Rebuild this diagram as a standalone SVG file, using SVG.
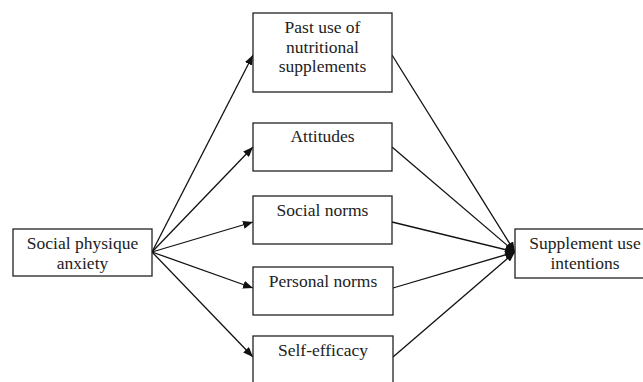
<svg xmlns="http://www.w3.org/2000/svg" width="643" height="382" viewBox="0 0 643 382">
<defs>
<style>
.box{fill:#fff;stroke:#222;stroke-width:1.3}
.t{font-family:"Liberation Serif","Times New Roman",serif;font-size:17.5px;fill:#222;text-anchor:middle}
.c{stroke:#111;stroke-width:1.3;fill:none}
</style>
<marker id="ah" viewBox="0 0 10 8" refX="10" refY="4" markerWidth="10" markerHeight="8" markerUnits="userSpaceOnUse" orient="auto">
<path d="M0,0 L10,4 L0,8 Z" fill="#111"/>
</marker>
</defs>
<rect width="643" height="382" fill="#fff"/>
<g id="connectors">
<line class="c" x1="152" y1="252" x2="253" y2="55" marker-end="url(#ah)"/>
<line class="c" x1="152" y1="252" x2="253" y2="147" marker-end="url(#ah)"/>
<line class="c" x1="152" y1="252" x2="253" y2="222" marker-end="url(#ah)"/>
<line class="c" x1="152" y1="252" x2="253" y2="288" marker-end="url(#ah)"/>
<line class="c" x1="152" y1="252" x2="253" y2="357" marker-end="url(#ah)"/>
<line class="c" x1="392" y1="55" x2="515" y2="252" marker-end="url(#ah)"/>
<line class="c" x1="392" y1="147" x2="515" y2="252" marker-end="url(#ah)"/>
<line class="c" x1="392" y1="222" x2="515" y2="252" marker-end="url(#ah)"/>
<line class="c" x1="393" y1="288" x2="515" y2="252" marker-end="url(#ah)"/>
<line class="c" x1="393" y1="357" x2="515" y2="252" marker-end="url(#ah)"/>
</g>
<g id="spa">
<rect class="box" x="13" y="229" width="139" height="47"/>
<text class="t" x="82.5" y="249">Social physique</text>
<text class="t" x="82.5" y="268.5">anxiety</text>
</g>
<g id="past">
<rect class="box" x="253" y="13" width="139" height="79"/>
<text class="t" x="322.5" y="33">Past use of</text>
<text class="t" x="322.5" y="52.5">nutritional</text>
<text class="t" x="322.5" y="72">supplements</text>
</g>
<g id="attitudes">
<rect class="box" x="253" y="123" width="139" height="48"/>
<text class="t" x="322.5" y="142">Attitudes</text>
</g>
<g id="social">
<rect class="box" x="253" y="196" width="139" height="48"/>
<text class="t" x="322.5" y="216">Social norms</text>
</g>
<g id="personal">
<rect class="box" x="253" y="267" width="140" height="48"/>
<text class="t" x="323" y="287">Personal norms</text>
</g>
<g id="selfeff">
<rect class="box" x="253" y="336" width="140" height="48"/>
<text class="t" x="323" y="356">Self-efficacy</text>
</g>
<g id="intentions">
<rect class="box" x="515" y="229" width="140" height="49"/>
<text class="t" x="585" y="249">Supplement use</text>
<text class="t" x="585" y="268.5">intentions</text>
</g>
</svg>
